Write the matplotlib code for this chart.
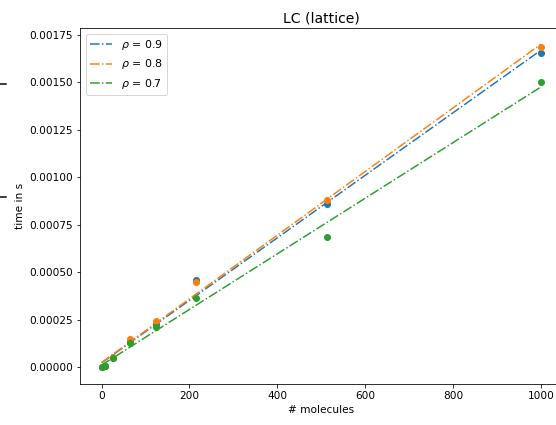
import numpy as np
import matplotlib
matplotlib.use('Agg')
import matplotlib.pyplot as plt
from matplotlib.lines import Line2D

n_mol = np.array([1, 8, 27, 64, 125, 216, 512, 1000])
t_09 = np.array([0.0000005, 0.000005, 0.000047, 0.000137, 0.000227, 0.000457, 0.00086, 0.001656])
t_08 = np.array([0.0000006, 0.000006, 0.000050, 0.000145, 0.000243, 0.000450, 0.00088, 0.001688])
t_07 = np.array([0.0000004, 0.000005, 0.000045, 0.000127, 0.000211, 0.000364, 0.000686, 0.001503])
rhos = ['0.9', '0.8', '0.7']
series = [t_09, t_08, t_07]
colors = ['#1f77b4', '#ff7f0e', '#2ca02c']

fig = plt.figure(figsize=(556/72, 425/72), dpi=72)
ax = fig.add_axes([80/556, 41/425, 483/556, 356/425])

xx = np.array([0, 1000])
for rho, t, c in zip(rhos, series, colors):
    p = np.polyfit(n_mol, t, 1)
    ax.plot(xx, np.polyval(p, xx), '-.', color=c, label=r'$\rho$ = ' + rho)
for t, c in zip(series, colors):
    ax.scatter(n_mol, t, color=c, s=36, zorder=3)

ax.set_xlim(-49, 1050)
ax.set_ylim(-0.00009, 0.001787)
ax.set_xticks([0, 200, 400, 600, 800, 1000])
ax.set_yticks(np.arange(0, 0.00176, 0.00025))
ax.yaxis.set_major_formatter(matplotlib.ticker.FormatStrFormatter('%.5f'))
ax.tick_params(labelsize=10.5)
ax.set_xlabel('# molecules', fontsize=10.5)
ax.set_ylabel('time in s', fontsize=10.5)
ax.set_title('LC (lattice)', fontsize=14)
ax.legend(loc='upper left', fontsize=11)

# stray marks at the left edge
for yp in [84, 197]:
    fig.add_artist(Line2D([0, 6/556], [1 - yp/425, 1 - yp/425], color='black', lw=1.5))

fig.savefig('out.png', dpi=72)
